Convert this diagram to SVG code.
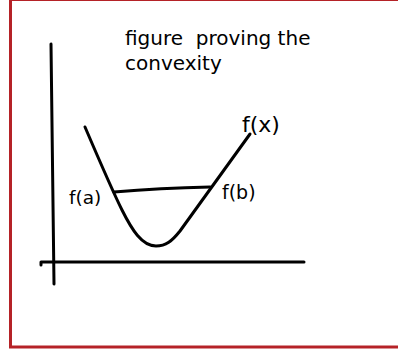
<svg xmlns="http://www.w3.org/2000/svg" width="398" height="354" viewBox="0 0 398 354">
<style>
.ln{fill:none;stroke:#000;stroke-width:3;stroke-linecap:round;stroke-linejoin:round}
.t{font-family:"DejaVu Sans",sans-serif;fill:#000;white-space:pre}
</style>
<rect x="0" y="0" width="398" height="354" fill="#fff"/>
<rect x="10.5" y="-0.5" width="400" height="347.5" fill="none" stroke="#b52227" stroke-width="3"/>
<g id="axes">
<path class="ln" d="M51,44 L54,284"/>
<path class="ln" d="M41,265 L41,262 L304,262" stroke-width="3.5"/>
</g>
<g id="curve">
<path class="ln" d="M85,127 C100,162 112,190 122,210 C132,230 142,246 156,246 C166,246 172,241 180,231 L250,134"/>
</g>
<g id="connectors">
<path class="ln" d="M114,192 Q160,188 210,187"/>
</g>
<g id="title"><text class="t" x="125" y="45" font-size="20" xml:space="preserve">figure  proving the</text><text class="t" x="125" y="70" font-size="20">convexity</text></g>
<g id="fx"><text class="t" x="242" y="132" font-size="22">f(x)</text></g>
<g id="fa"><text class="t" x="69" y="204" font-size="18.5">f(a)</text></g>
<g id="fb"><text class="t" x="222" y="199" font-size="19">f(b)</text></g>
</svg>
